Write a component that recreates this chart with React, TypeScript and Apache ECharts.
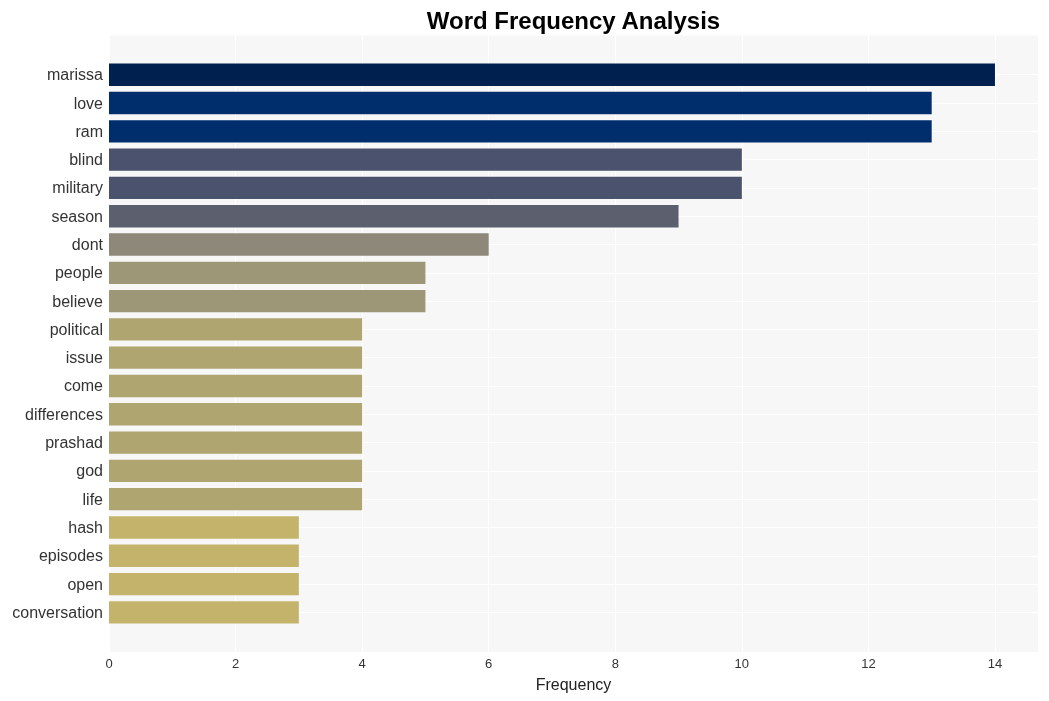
import React, { useEffect, useRef } from "react";
import * as echarts from "echarts";

const words = [
  "marissa", "love", "ram", "blind", "military", "season", "dont", "people", "believe",
  "political", "issue", "come", "differences", "prashad", "god", "life", "hash",
  "episodes", "open", "conversation",
];
const counts = [14, 13, 13, 10, 10, 9, 6, 5, 5, 4, 4, 4, 4, 4, 4, 4, 3, 3, 3, 3];
const barColors = [
  "#00214f", "#002e6d", "#002e6d", "#4a526d", "#4a526d", "#5c5f6e", "#8e887a",
  "#9d9677", "#9d9677", "#afa571", "#afa571", "#afa571", "#afa571", "#afa571",
  "#afa571", "#afa571", "#c4b46b", "#c4b46b", "#c4b46b", "#c4b46b",
];
const xTicksMax = 14.68;
const titleText = "Word Frequency Analysis";
const xName = "Frequency";

const FONT = "'Liberation Sans', Arial, sans-serif";

export default function App() {
  const ref = useRef<HTMLDivElement>(null);
  useEffect(() => {
    if (!ref.current) return;
    const chart = echarts.init(ref.current, null, { renderer: "svg" });
    chart.setOption({
      animation: false,
      textStyle: { fontFamily: FONT },
      graphic: [
        {
          type: "text",
          x: 573.5,
          y: 20,
          style: {
            text: titleText,
            fill: "#000",
            font: `bold 24px ${FONT}`,
            align: "center",
            verticalAlign: "middle",
          },
        },
      ],
      grid: [
        {
          left: 109,
          right: 11,
          top: 35.5,
          bottom: 49,
          show: true,
          backgroundColor: "#f7f7f7",
          borderWidth: 0,
        },
        {
          left: 109,
          right: 11,
          top: 60.6,
          bottom: 74.5,
        },
      ],
      xAxis: [
        {
          gridIndex: 0,
          type: "value",
          min: 0,
          max: xTicksMax,
          interval: 2,
          axisLine: { show: false },
          axisTick: { show: false },
          axisLabel: {
            color: "#333",
            fontSize: 13,
            margin: 5,
            fontFamily: FONT,
            showMaxLabel: false,
            formatter: (v: number) => (v % 2 === 0 && v <= 14 ? String(v) : ""),
          },
          splitLine: { show: true, lineStyle: { color: "#ffffff", width: 1 } },
          name: xName,
          nameLocation: "middle",
          nameGap: 24,
          nameTextStyle: { color: "#222", fontSize: 16, fontFamily: FONT },
        },
        {
          gridIndex: 1,
          type: "value",
          min: 0,
          max: xTicksMax,
          show: false,
          splitLine: { show: false },
        },
      ],
      yAxis: [
        {
          gridIndex: 0,
          type: "value",
          show: false,
          splitLine: { show: false },
        },
        {
          gridIndex: 1,
          type: "category",
          data: words,
          inverse: true,
          axisLine: { show: false },
          axisTick: { show: false },
          splitLine: { show: false },
          axisLabel: {
            color: "#333",
            fontSize: 16,
            margin: 6,
            padding: [3, 0, 0, 0],
            fontFamily: FONT,
          },
        },
      ],
      series: [
        {
          type: "bar",
          xAxisIndex: 1,
          yAxisIndex: 1,
          barWidth: "79%",
          data: counts.map((v, i) => ({ value: v, itemStyle: { color: barColors[i] } })),
          markLine: {
            z: 1,
            silent: true,
            symbol: "none",
            label: { show: false },
            lineStyle: { color: "#ffffff", width: 1, type: "solid" },
            data: words.map((w) => ({ yAxis: w })),
          },
        },
      ],
    });
    return () => chart.dispose();
  }, []);
  return (
    <div
      ref={ref}
      style={{ position: "fixed", left: 0, top: 0, width: 1049, height: 701 }}
    />
  );
}
